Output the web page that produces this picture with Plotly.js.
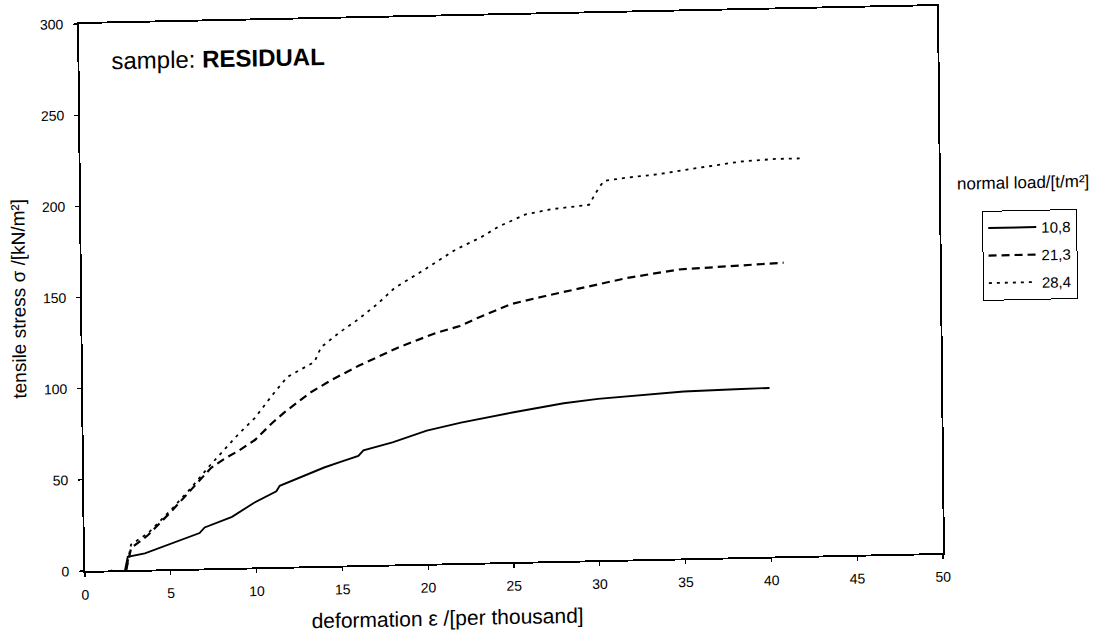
<!DOCTYPE html>
<html>
<head>
<meta charset="utf-8">
<script src="https://cdn.plot.ly/plotly-3.0.1.min.js"></script>
<style>
  html, body { margin: 0; padding: 0; background: #fff; overflow: hidden; }
  #chart {
    position: absolute; left: 0; top: 0; width: 1099px; height: 642px;
    /* scanned sheet sits slightly askew */
    transform-origin: 85px 571px;
    transform: matrix(1, -0.02098, 0.01097, 1, 0, 0);
  }
</style>
</head>
<body>
<div id="chart"></div>
<script>
// normal load levels [t/m²]
const loadLabels = ['10,8', '21,3', '28,4'];

// deformation ε [‰] and tensile stress σ [kN/m²] per load level
const strain108 = [1.5, 2.0, 2.3, 2.5, 3.5, 4.7, 5.9, 6.7, 7.0, 8.6, 9.9, 11.2, 11.4, 12.5, 14.0, 15.0, 16.0, 16.3, 18.0, 20.0, 22.0, 25.0, 28.0, 30.0, 33.0, 35.0, 38.0, 40.0];
const stress108 = [0, -1.5, -1.5, 7.3, 9, 13, 17, 19.5, 22.5, 28, 35.5, 41.5, 44.5, 48.5, 54, 57, 60, 63, 67, 73, 77, 82, 86.5, 88.5, 90.5, 91.5, 92.2, 92.5];

const strain213 = [2.4, 2.7, 3.7, 5.1, 6.2, 7.4, 8.2, 9.0, 10.0, 11.0, 11.7, 13.2, 14.5, 16.1, 17.2, 18.4, 20.6, 22.0, 23.1, 25.0, 27.0, 29.9, 31.8, 34.8, 37.0, 39.0, 40.9];
const stress213 = [0, 12, 19, 32, 43, 55, 60, 64, 70, 79, 84.5, 95, 102, 109.5, 114, 119, 126.5, 130, 134.5, 141.5, 145.5, 151, 154.5, 158.5, 159.5, 160.5, 161];

const strain284 = [2.4, 2.7, 3.7, 5.1, 6.2, 7.4, 8.2, 9.0, 10.0, 11.0, 11.9, 13.5, 13.9, 15.0, 16.1, 17.2, 18.2, 20.0, 21.8, 23.3, 24.3, 25.9, 27.4, 29.6, 30.2, 30.5, 31.9, 33.7, 36.0, 38.5, 40.5, 41.9];
const stress284 = [0, 14, 20, 33, 44, 57, 65, 73, 82, 94, 104, 112, 120, 128, 135, 143, 151.5, 161.5, 172, 178.5, 184, 190.5, 193, 195, 204.5, 208, 209.5, 211, 214, 217, 218, 218];

// axis ticks
const xTicks = [0, 5, 10, 15, 20, 25, 30, 35, 40, 45, 50];
const yTicks = [0, 50, 100, 150, 200, 250, 300];

const FONT = 'Arial, "Liberation Sans", Helvetica, sans-serif';

const traces = [
  { x: strain108, y: stress108, name: loadLabels[0], legendgroup: 'a',
    mode: 'lines', line: { color: '#000', width: 1.9, dash: 'solid' } },
  { x: strain213, y: stress213, name: loadLabels[1], legendgroup: 'b',
    mode: 'lines', line: { color: '#000', width: 2.2, dash: '8px,5px' } },
  { x: strain284, y: stress284, name: loadLabels[2], legendgroup: 'c',
    mode: 'lines', line: { color: '#000', width: 1.8, dash: '3px,5px' } }
];

const axisCommon = {
  showgrid: false, zeroline: false, showline: true, mirror: true,
  linecolor: '#000', linewidth: 1.9,
  ticks: 'outside', ticklen: 4, tickwidth: 1.2, tickcolor: '#000',
  tickfont: { family: FONT, size: 14, color: '#000' }
};

const layout = {
  width: 1099, height: 642,
  margin: { l: 85, r: 156, t: 24, b: 71 },
  paper_bgcolor: '#fff', plot_bgcolor: '#fff',
  font: { family: FONT, color: '#000' },
  xaxis: Object.assign({}, axisCommon, {
    range: [0, 50], tickvals: xTicks, ticklabelstandoff: 6
  }),
  yaxis: Object.assign({}, axisCommon, {
    range: [0, 300], tickvals: yTicks, ticklabelstandoff: 7,
    title: { text: 'tensile stress σ /[kN/m²]', font: { family: FONT, size: 19, color: '#000' }, standoff: 12 }
  }),
  // short inner tick halves so the marks cross the axes
  xaxis2: { overlaying: 'x', anchor: 'y2', range: [0, 50], tickvals: xTicks, ticks: 'inside', ticklen: 4,
            tickwidth: 1.2, tickcolor: '#000', showticklabels: false, showline: false, showgrid: false, zeroline: false },
  yaxis2: { overlaying: 'y', anchor: 'x2', range: [0, 300], tickvals: yTicks, ticks: 'inside', ticklen: 4,
            tickwidth: 1.2, tickcolor: '#000', showticklabels: false, showline: false, showgrid: false, zeroline: false },
  showlegend: true,
  legend: {
    xref: 'container', yref: 'container',
    x: 0.897, y: 0.642, xanchor: 'left', yanchor: 'top',
    bordercolor: '#000', borderwidth: 1, bgcolor: '#fff',
    font: { family: FONT, size: 15, color: '#000' },
    tracegroupgap: 5, itemwidth: 48
  },
  annotations: [
    { xref: 'paper', yref: 'paper', x: 0.0345, y: 0.932, xanchor: 'left', yanchor: 'middle',
      showarrow: false, font: { family: FONT, size: 24, color: '#000' },
      text: 'sample: <b>RESIDUAL</b>' },
    { xref: 'paper', yref: 'paper', x: 1.098, y: 0.673, xanchor: 'center', yanchor: 'middle',
      showarrow: false, font: { family: FONT, size: 17, color: '#000' },
      text: 'normal load/[t/m²]' },
    { xref: 'paper', yref: 'paper', x: 0.422, y: -0.1, xanchor: 'center', yanchor: 'middle',
      showarrow: false, font: { family: FONT, size: 21, color: '#000' },
      text: 'deformation ε /[per thousand]' }
  ]
};

Plotly.newPlot('chart', traces, layout, { staticPlot: true, displayModeBar: false });
</script>
</body>
</html>
